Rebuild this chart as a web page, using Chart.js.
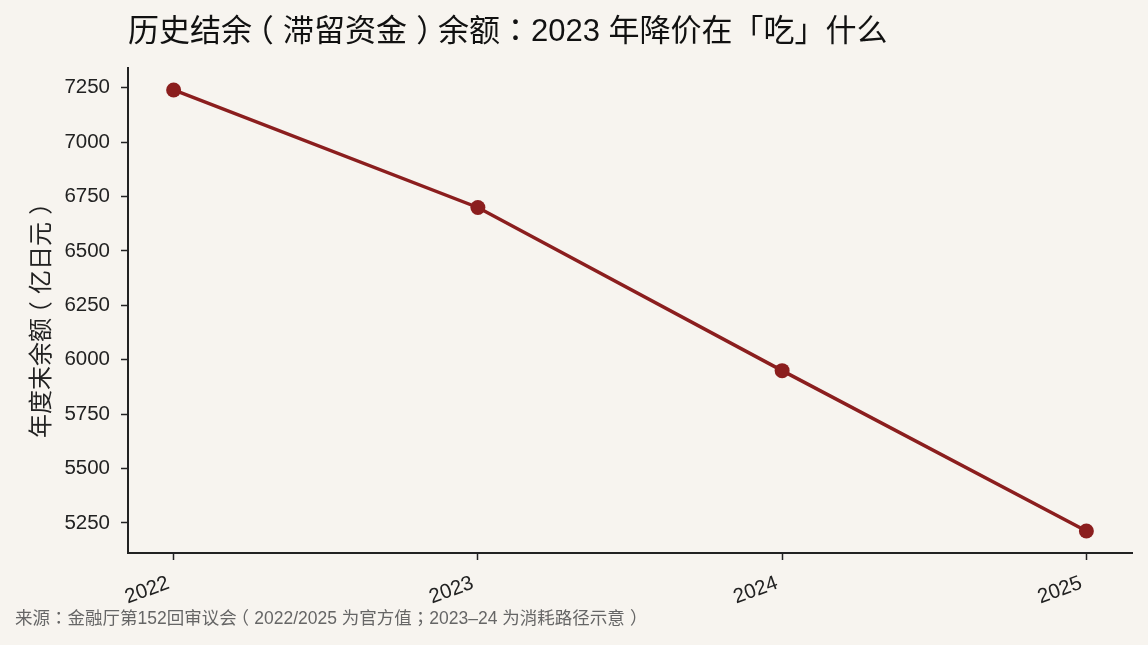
<!DOCTYPE html>
<html>
<head>
<meta charset="utf-8">
<script src="https://cdn.jsdelivr.net/npm/chart.js@4"></script>
<style>
  html, body { margin: 0; padding: 0; background: #f7f4ef; }
  #wrap { position: relative; width: 1148px; height: 645px; background: #f7f4ef; overflow: hidden; }
  .txt {
    position: absolute; white-space: nowrap;
    font-family: 'Liberation Sans', 'Noto Sans CJK TC', sans-serif;
    font-kerning: none; text-spacing-trim: space-all;
  }
  #title { left: 128px; top: 15px; font-size: 31px; line-height: 31px; color: #111; }
  #note { left: 15px; top: 608px; font-size: 17.5px; line-height: 20px; color: #666; }
  #ylabel {
    left: 41px; top: 318px; font-size: 24px; line-height: 24px; color: #222;
    transform: translate(-50%, -50%) rotate(-90deg);
  }
  .lp { position: relative; left: -0.3em; }
  .rp { position: relative; left: 0.3em; }
  canvas { position: absolute; left: 0; top: 0; }
</style>
</head>
<body>
<div id="wrap">
  <canvas id="balanceChart" width="1148" height="645"></canvas>
  <div id="title" class="txt">历史结余<span class="lp">（</span>滞留资金<span class="rp">）</span>余额：2023 年降价在「吃」什么</div>
  <div id="ylabel" class="txt">年度末余额<span class="lp">（</span>亿日元<span class="rp">）</span></div>
  <div id="note" class="txt">来源：金融厅第152回审议会<span class="lp">（</span>2022/2025 为官方值；2023–24 为消耗路径示意<span class="rp">）</span></div>
</div>
<script>
// 数据
const years = [2022, 2023, 2024, 2025];
const balances = [7240, 6700, 5950, 5213];
const yTicks = [5250, 5500, 5750, 6000, 6250, 6500, 6750, 7000, 7250];

const FONT = "'Liberation Sans', 'Noto Sans CJK TC', sans-serif";
const INK = '#222';
const RED = '#8b1e1e';

document.addEventListener('DOMContentLoaded', function() {
    const ctx = document.getElementById('balanceChart');

    new Chart(ctx, {
        type: 'line',
        data: {
            datasets: [{
                label: '年度末余额',
                data: years.map((y, i) => ({ x: y, y: balances[i] })),
                borderColor: RED,
                backgroundColor: RED,
                borderWidth: 3.5,
                pointRadius: 7.5,
                pointBorderWidth: 0,
                pointBackgroundColor: RED,
                tension: 0
            }]
        },
        options: {
            responsive: false,
            devicePixelRatio: 1,
            animation: false,
            layout: {
                padding: { top: 68, right: 16, left: 0, bottom: 0 }
            },
            plugins: {
                legend: { display: false },
                tooltip: { enabled: false }
            },
            scales: {
                x: {
                    type: 'linear',
                    min: 2021.85,
                    max: 2025.15,
                    afterBuildTicks: (scale) => {
                        scale.ticks = years.map(v => ({ value: v }));
                    },
                    afterFit: (scale) => { scale.height = 92; },
                    grid: {
                        drawOnChartArea: false,
                        tickLength: 7,
                        tickWidth: 1.5,
                        tickColor: INK
                    },
                    border: { color: INK, width: 2 },
                    ticks: {
                        color: INK,
                        font: { family: FONT, size: 20.5 },
                        minRotation: 20,
                        maxRotation: 20,
                        padding: 11,
                        labelOffset: -5,
                        callback: (v) => String(v)
                    }
                },
                y: {
                    min: 5112,
                    max: 7341,
                    afterBuildTicks: (scale) => {
                        scale.ticks = yTicks.map(v => ({ value: v }));
                    },
                    afterFit: (scale) => { scale.width = 128; },
                    grid: {
                        drawOnChartArea: false,
                        tickLength: 7,
                        tickWidth: 1.5,
                        tickColor: INK
                    },
                    border: { color: INK, width: 2 },
                    ticks: {
                        color: INK,
                        font: { family: FONT, size: 20.5 },
                        padding: 11,
                        callback: (v) => String(v)
                    }
                }
            }
        }
    });
});
</script>
</body>
</html>
